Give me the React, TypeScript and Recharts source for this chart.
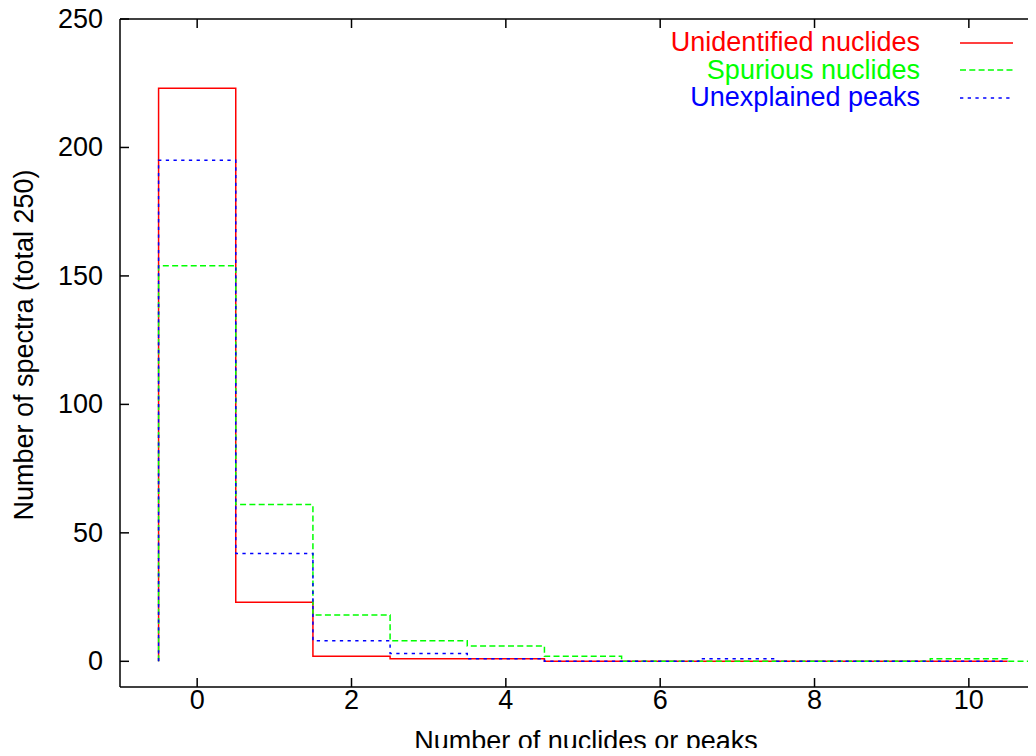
import React from 'react';
import { LineChart, Line, XAxis, YAxis, Legend } from 'recharts';

const bins = [0, 1, 2, 3, 4, 5, 6, 7, 8, 9, 10, 11];
const unidentified = [223, 23, 2, 1, 1, 0, 0, 0, 0, 0, 0];
const spurious = [154, 61, 18, 8, 6, 2, 0, 0, 0, 0, 1, 0];
const unexplained = [195, 42, 8, 3, 1, 0, 0, 1, 0, 0, 0];

const xTicks = [0, 2, 4, 6, 8, 10];
const yTicks = [0, 50, 100, 150, 200, 250];

const FONT = "'Liberation Sans', Arial, Helvetica, sans-serif";
const FS = 27;

const series = [
  { name: 'Unidentified nuclides', counts: unidentified, color: '#ff0000', dash: undefined },
  { name: 'Spurious nuclides', counts: spurious, color: '#00ff00', dash: '6 3.3' },
  { name: 'Unexplained peaks', counts: unexplained, color: '#0000ff', dash: '3.3 4.4' },
];

// histogram steps: rise at the first bin edge, then one step per bin
const toSteps = (counts: number[]) => {
  const pts = [{ x: bins[0] - 0.5, y: 0 }];
  counts.forEach((c, i) => pts.push({ x: bins[i] - 0.5, y: c }));
  const last = counts.length - 1;
  pts.push({ x: bins[last] + 0.5, y: counts[last] });
  return pts;
};

const BottomTick = (props: any) => {
  const { x, y, payload } = props;
  return (
    <g>
      <line x1={x} y1={y} x2={x} y2={y - 9} stroke="#000" strokeWidth={1.5} />
      <text x={x} y={y + 13} textAnchor="middle" dominantBaseline="central" fontSize={FS} fontFamily={FONT} fill="#000">
        {payload.value}
      </text>
    </g>
  );
};

const TopTick = (props: any) => {
  const { x, y } = props;
  return <line x1={x} y1={y} x2={x} y2={y + 9} stroke="#000" strokeWidth={1.5} />;
};

const LeftTick = (props: any) => {
  const { x, y, payload } = props;
  return (
    <g>
      <line x1={x} y1={y} x2={x + 9} y2={y} stroke="#000" strokeWidth={1.5} />
      <text x={x - 17} y={y} textAnchor="end" dominantBaseline="central" fontSize={FS} fontFamily={FONT} fill="#000">
        {payload.value}
      </text>
    </g>
  );
};

const LegendBox = () => (
  <div style={{ fontFamily: FONT, fontSize: FS }}>
    {series.map((s) => (
      <div key={s.name} style={{ display: 'flex', justifyContent: 'flex-end', alignItems: 'center', height: 27.5 }}>
        <span style={{ color: s.color, lineHeight: 1 }}>{s.name}</span>
        <svg width={53} height={4} style={{ marginLeft: 40 }}>
          <line x1={0} y1={2} x2={53} y2={2} stroke={s.color} strokeWidth={1.5} strokeDasharray={s.dash} />
        </svg>
      </div>
    ))}
  </div>
);

const axisLine = { stroke: '#000', strokeWidth: 1.5 };

export default function App() {
  return (
    <div style={{ margin: -8, width: 1036, height: 756 }}>
      <LineChart width={1036} height={756} margin={{ top: 18, right: 0, bottom: 68, left: 119 }}>
        <XAxis
          dataKey="x"
          type="number"
          domain={[-1, 10.87]}
          allowDataOverflow
          ticks={xTicks}
          height={1}
          tickSize={0}
          tickMargin={0}
          tickLine={false}
          axisLine={axisLine}
          tick={<BottomTick />}
          label={{
            content: (p: any) => {
              const vb = p.viewBox;
              return (
                <text x={vb.x + vb.width / 2 + 8} y={vb.y + 54} textAnchor="middle" dominantBaseline="central" fontSize={FS} fontFamily={FONT} fill="#000">
                  Number of nuclides or peaks
                </text>
              );
            },
          }}
        />
        <XAxis
          xAxisId="top"
          orientation="top"
          dataKey="x"
          type="number"
          domain={[-1, 10.87]}
          allowDataOverflow
          ticks={xTicks}
          height={1}
          tickSize={0}
          tickMargin={0}
          tickLine={false}
          axisLine={axisLine}
          tick={<TopTick />}
        />
        <YAxis
          type="number"
          domain={[-10, 250]}
          allowDataOverflow
          ticks={yTicks}
          width={1}
          tickSize={0}
          tickMargin={0}
          tickLine={false}
          axisLine={axisLine}
          tick={<LeftTick />}
          label={{
            content: (p: any) => {
              const vb = p.viewBox;
              const cy = vb.y + vb.height / 2 - 8;
              return (
                <text x={24} y={cy} transform={`rotate(-90 24 ${cy})`} textAnchor="middle" dominantBaseline="central" fontSize={FS} fontFamily={FONT} fill="#000">
                  Number of spectra (total 250)
                </text>
              );
            },
          }}
        />
        <Legend
          layout="vertical"
          align="center"
          verticalAlign="middle"
          content={<LegendBox />}
          wrapperStyle={{ top: 29, left: 0, width: 1013 }}
        />
        {series.map((s) => (
          <Line
            key={s.name}
            data={toSteps(s.counts)}
            dataKey="y"
            name={s.name}
            type="stepAfter"
            stroke={s.color}
            strokeWidth={1.5}
            strokeDasharray={s.dash}
            dot={false}
            activeDot={false}
            isAnimationActive={false}
          />
        ))}
      </LineChart>
    </div>
  );
}
